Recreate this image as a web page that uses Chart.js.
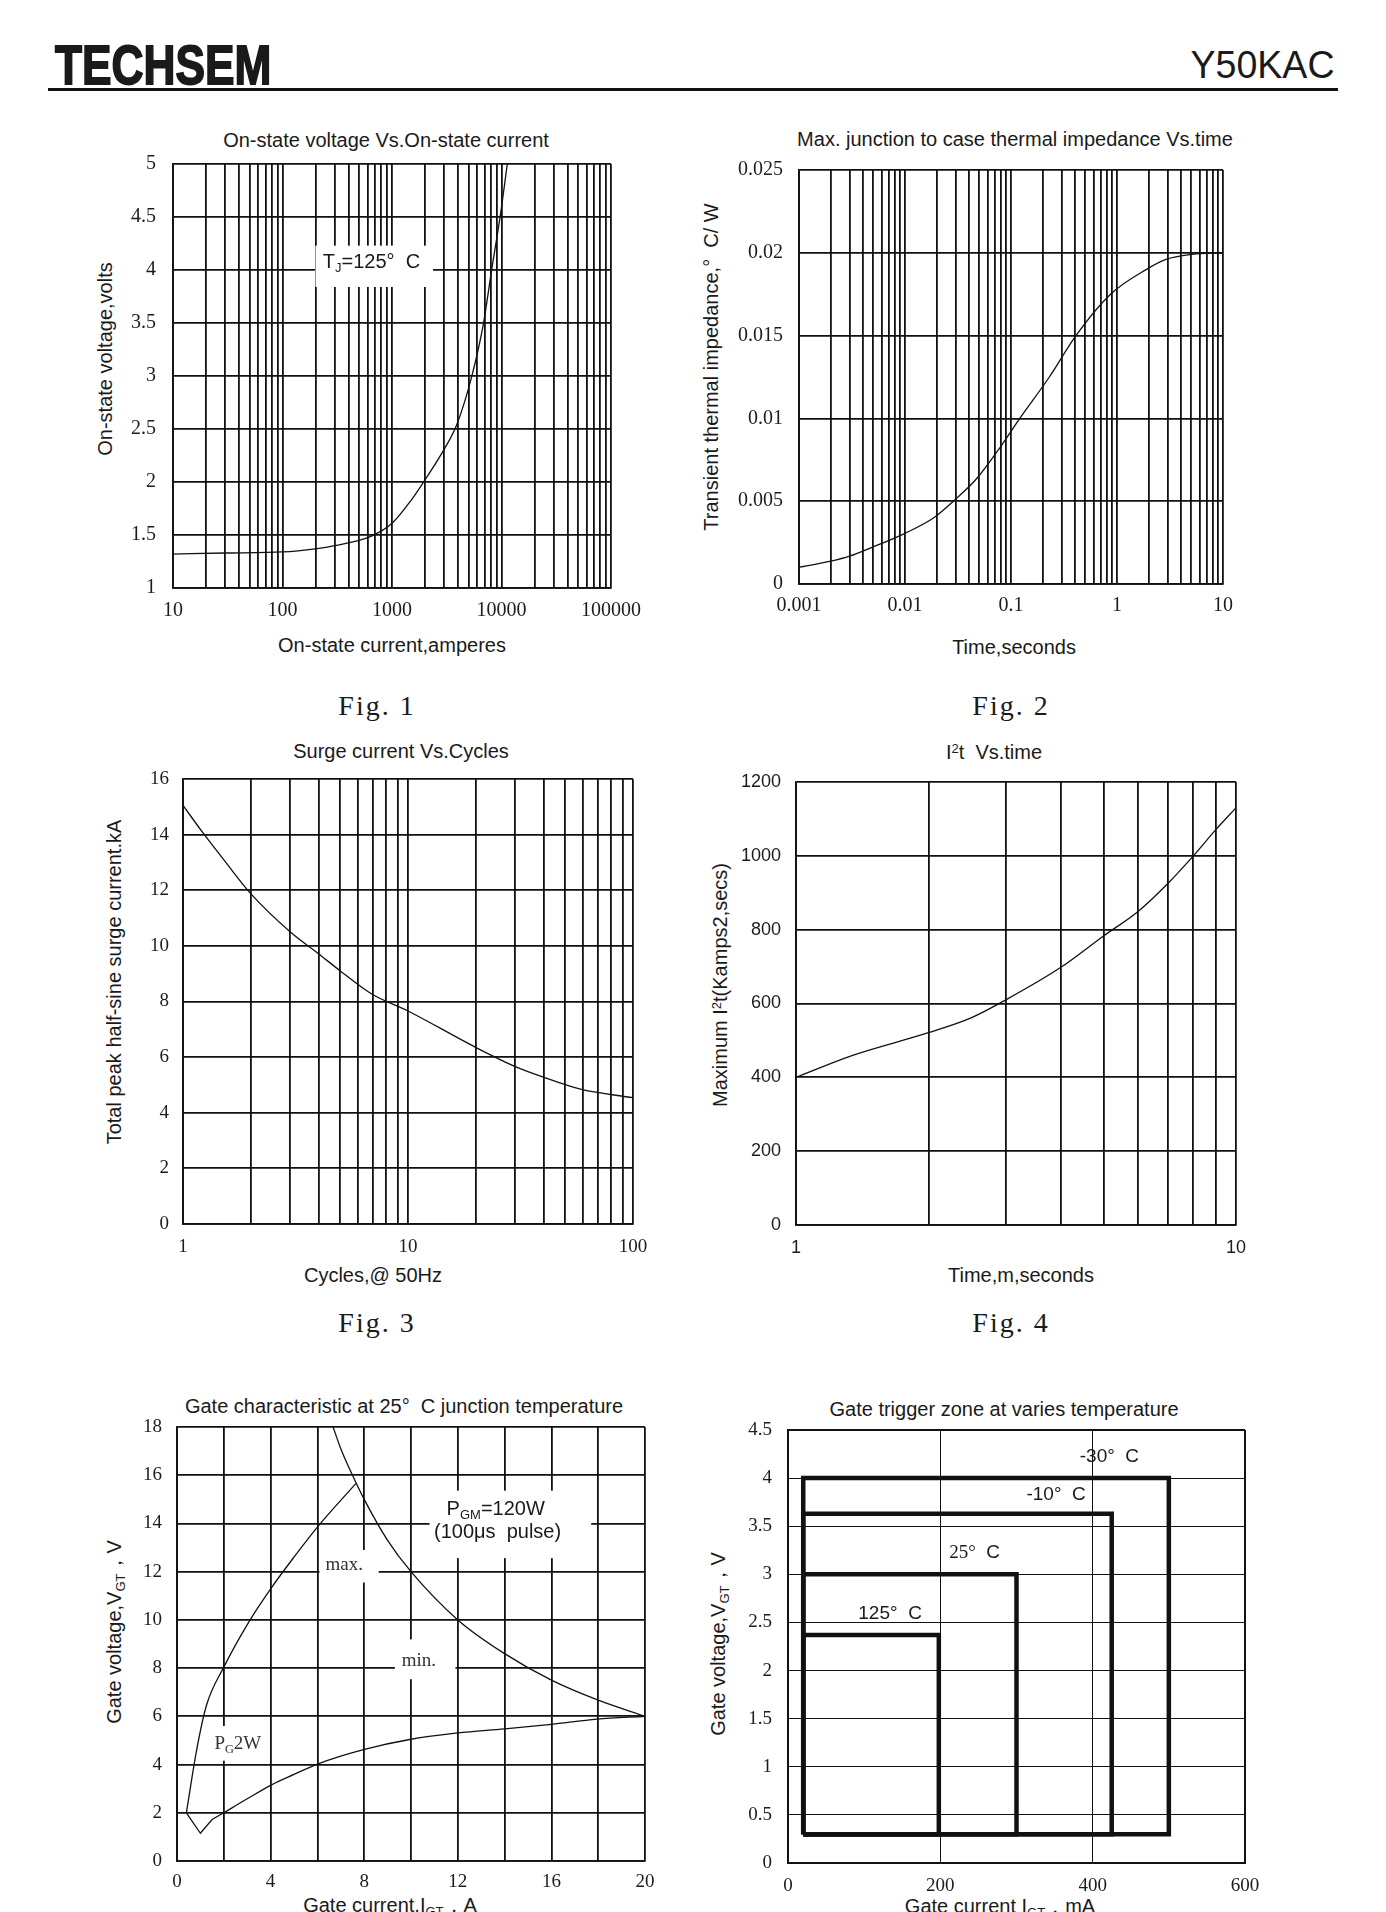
<!DOCTYPE html>
<html><head><meta charset="utf-8">
<script src="https://cdn.jsdelivr.net/npm/chart.js@4.4.1/dist/chart.umd.min.js"></script>
<style>
body{margin:0;background:#fff;width:1386px;height:1912px;position:relative;overflow:hidden;font-family:"Liberation Sans",Arial,sans-serif;color:#1a1a1a}
.t{position:absolute;white-space:pre;transform:translate(-50%,-50%);line-height:1;font-size:20px}
.yt{transform:translate(-50%,-50%) rotate(-90deg)}
.fig{font-family:"Liberation Serif",serif;font-size:28px;letter-spacing:2px}
sub{font-size:0.65em;vertical-align:-0.3em;line-height:0}
sup{font-size:0.65em;vertical-align:0.45em;line-height:0}
canvas{position:absolute}
</style></head>
<body>
<div style="position:absolute;left:55px;top:36.6px;font:900 56px 'Liberation Sans',Arial,sans-serif;line-height:1;transform:scaleX(0.79);transform-origin:0 0;-webkit-text-stroke:1.8px #1a1a1a;white-space:pre">TECHSEM</div>
<div style="position:absolute;right:51px;top:44.9px;font:400 39.5px 'Liberation Sans',Arial,sans-serif;line-height:1;transform:scaleX(0.95);transform-origin:100% 0;white-space:pre">Y50KAC</div>
<div style="position:absolute;left:48px;top:88px;width:1290px;height:2.5px;background:#111"></div>

<div class="t" style="left:386px;top:140px">On-state voltage Vs.On-state current</div>
<div class="t" style="left:392px;top:645px">On-state current,amperes</div>
<div class="t yt" style="left:105px;top:359px">On-state voltage,volts</div>
<div class="t fig" style="left:377px;top:706px">Fig. 1</div>

<div class="t" style="left:1015px;top:139px">Max. junction to case thermal impedance Vs.time</div>
<div class="t" style="left:1014px;top:647px">Time,seconds</div>
<div class="t yt" style="left:711px;top:367px">Transient thermal impedance,°  C/ W</div>
<div class="t fig" style="left:1011px;top:706px">Fig. 2</div>

<div class="t" style="left:401px;top:751px">Surge current Vs.Cycles</div>
<div class="t" style="left:373px;top:1275px">Cycles,@ 50Hz</div>
<div class="t yt" style="left:114px;top:982px">Total peak half-sine surge current.kA</div>
<div class="t fig" style="left:377px;top:1323px">Fig. 3</div>

<div class="t" style="left:994px;top:752px">I<sup>2</sup>t  Vs.time</div>
<div class="t" style="left:1021px;top:1275px">Time,m,seconds</div>
<div class="t yt" style="left:720px;top:985px">Maximum I<sup>2</sup>t(Kamps2,secs)</div>
<div class="t fig" style="left:1011px;top:1323px">Fig. 4</div>

<div class="t" style="left:404px;top:1406px">Gate characteristic at 25°  C junction temperature</div>
<div class="t" style="left:390px;top:1905px">Gate current,I<sub>GT</sub>，A</div>
<div class="t yt" style="left:114px;top:1632px">Gate voltage,V<sub>GT</sub>，V</div>

<div class="t" style="left:1004px;top:1409px">Gate trigger zone at varies temperature</div>
<div class="t" style="left:1000px;top:1906px">Gate current I<sub>GT</sub>，mA</div>
<div class="t yt" style="left:718px;top:1644px">Gate voltage,V<sub>GT</sub>，V</div>

<script>
// ---------------- DATA ----------------
// Fig.1 On-state voltage vs current (Tj=125 C)
const fig1Current = [10, 30, 100, 200, 300, 650, 1000, 1500, 2000, 3000, 3900, 5300, 6800, 8100, 9800, 11300];
const fig1Voltage = [1.32, 1.33, 1.34, 1.37, 1.40, 1.49, 1.61, 1.83, 2.02, 2.31, 2.54, 2.98, 3.48, 3.99, 4.53, 5.0];
const fig1XLabels = ['10', '100', '1000', '10000', '100000'];
const fig1YLabels = ['1', '1.5', '2', '2.5', '3', '3.5', '4', '4.5', '5'];

// Fig.2 Thermal impedance vs time
const fig2Time = [0.001, 0.002, 0.003, 0.005, 0.01, 0.019, 0.0286, 0.048, 0.08, 0.121, 0.23, 0.41, 0.87, 1.9, 2.9, 5.1, 10];
const fig2Zth = [0.00101, 0.00138, 0.00168, 0.00224, 0.00306, 0.00403, 0.005, 0.0064, 0.0083, 0.0100, 0.0125, 0.0150, 0.0175, 0.0190, 0.0196, 0.0199, 0.0200];
const fig2XLabels = ['0.001', '0.01', '0.1', '1', '10'];
const fig2YLabels = ['0', '0.005', '0.01', '0.015', '0.02', '0.025'];

// Fig.3 Surge current vs cycles
const fig3Cycles = [1, 1.23, 1.55, 2, 3, 4, 5, 6.9, 10, 20, 30, 40, 59, 100];
const fig3Surge = [15.05, 14.05, 13.0, 11.88, 10.5, 9.72, 9.1, 8.27, 7.66, 6.35, 5.66, 5.28, 4.84, 4.54];
const fig3XLabels = ['1', '10', '100'];
const fig3YLabels = ['0', '2', '4', '6', '8', '10', '12', '14', '16'];

// Fig.4 I2t vs time
const fig4Time = [1, 1.34, 2, 2.5, 3, 4, 5, 6, 7, 8, 9, 10];
const fig4I2t = [400, 459, 521, 561, 610, 698, 783, 850, 925, 1000, 1071, 1130];
const fig4XLabels = ['1', '10'];
const fig4YLabels = ['0', '200', '400', '600', '800', '1000', '1200'];

// Fig.5 Gate characteristic
const gateMaxI = [0.4, 0.85, 1.26, 2.0, 3.06, 4.04, 5.02, 6.0, 7.64];
const gateMaxV = [2.0, 4.66, 6.46, 8.04, 9.9, 11.34, 12.63, 13.85, 15.65];
const gateDipI = [0.4, 1.0, 1.5, 2.0];
const gateDipV = [2.0, 1.15, 1.72, 2.0];
const gateMinI = [2.0, 3.0, 4.04, 5.0, 6.0, 7.97, 10.0, 12, 14, 16, 17.95, 20];
const gateMinV = [2.0, 2.58, 3.16, 3.59, 4.02, 4.62, 5.05, 5.31, 5.48, 5.67, 5.88, 6.0];
const gatePowI = [6.67, 7.0, 7.5, 8.0, 9.0, 10, 12, 14, 16, 18, 20];
const gatePowV = [18.0, 17.1, 16.0, 15.0, 13.3, 12.0, 10.0, 8.6, 7.5, 6.67, 6.0];
const fig5XGrid = [0, 2, 4, 6, 8, 10, 12, 14, 16, 18, 20];
const fig5XLabels = ['0', '4', '8', '12', '16', '20'];
const fig5YLabels = ['0', '2', '4', '6', '8', '10', '12', '14', '16', '18'];

// Fig.6 Gate trigger zones
const zoneNames = ['125°  C', '25°  C', '-10°  C', '-30°  C'];
const zoneLeft = [20, 20, 20, 20];
const zoneBottom = [0.3, 0.3, 0.3, 0.3];
const zoneRight = [198, 300, 425, 500];
const zoneTop = [2.37, 3.0, 3.63, 4.0];
const fig6XLabels = ['0', '200', '400', '600'];
const fig6YLabels = ['0', '0.5', '1', '1.5', '2', '2.5', '3', '3.5', '4', '4.5'];

// ---------------- HELPERS ----------------
const SERIF = '"Liberation Serif", "Times New Roman", serif';
const SANS = '"Liberation Sans", Arial, sans-serif';
function logGrid(min, max) {
  const out = [];
  for (let d = min; d < max * 1.0001; d *= 10) {
    for (let k = 1; k < 10; k++) {
      const v = +(d * k).toPrecision(6);
      if (v <= max * 1.0001) out.push(v);
    }
  }
  return out;
}
function pts(xs, ys) { return xs.map((x, i) => ({x: x, y: ys[i]})); }
function curve(xs, ys, extra) {
  return Object.assign({data: pts(xs, ys), borderColor: '#111', borderWidth: 1.3, pointRadius: 0,
    fill: false, cubicInterpolationMode: 'monotone'}, extra || {});
}
function labeler(labels) {
  const vals = labels.map(Number);
  return v => {
    const i = vals.findIndex(x => Math.abs(x - v) <= 1e-9 * Math.max(1, Math.abs(x)));
    return i < 0 ? '' : labels[i];
  };
}
function drawRich(ctx, segs, cx, cy, fam, fs, color) {
  let w = 0;
  const f = s => ((s.sub ? fs * 0.65 : fs) + 'px ' + (s.fam || fam));
  segs.forEach(s => { ctx.font = f(s); w += ctx.measureText(s.t).width; });
  let x = cx - w / 2;
  ctx.textBaseline = 'middle'; ctx.textAlign = 'left'; ctx.fillStyle = color || '#1a1a1a';
  segs.forEach(s => {
    ctx.font = f(s);
    ctx.fillText(s.t, x, s.sub ? cy + fs * 0.3 : cy);
    x += ctx.measureText(s.t).width;
  });
}
function annPlugin(list) {
  return {
    id: 'ann',
    beforeDatasetsDraw(chart) {
      const ctx = chart.ctx, xs = chart.scales.x, ys = chart.scales.y;
      ctx.save();
      list.forEach(a => {
        if (a.box) {
          const x0 = xs.getPixelForValue(a.box[0]), x1 = xs.getPixelForValue(a.box[1]);
          const y0 = ys.getPixelForValue(a.box[2]), y1 = ys.getPixelForValue(a.box[3]);
          ctx.fillStyle = '#fff';
          ctx.fillRect(Math.min(x0, x1), Math.min(y0, y1), Math.abs(x1 - x0), Math.abs(y1 - y0));
        }
      });
      list.forEach(a => {
        if (a.text) drawRich(ctx, a.text, xs.getPixelForValue(a.x), ys.getPixelForValue(a.y), a.fam || SANS, a.size || 20, a.color);
      });
      ctx.restore();
    }
  };
}
function makeChart(o) {
  const padL = 72, padT = 40, padR = 60, padB = 44;
  const p = o.plot;
  const cv = document.createElement('canvas');
  const W = p.R - p.L + padL + padR, H = p.B - p.T + padT + padB;
  cv.width = W; cv.height = H; cv.style.width = W + 'px'; cv.style.height = H + 'px';
  cv.style.left = (p.L - padL) + 'px'; cv.style.top = (p.T - padT) + 'px';
  document.body.appendChild(cv);
  const gw = o.gridWidth || 1.8, fw = o.frameWidth || gw;
  const mkScale = axis => {
    const a = o[axis];
    return {
      type: a.log ? 'logarithmic' : 'linear', min: a.min, max: a.max,
      afterBuildTicks: s => { s.ticks = a.grid.map(v => ({value: v})); },
      afterFit: s => { if (axis === 'x') s.height = padB; else s.width = padL; },
      grid: {color: '#111', drawTicks: false,
        lineWidth: c => (c.tick && (Math.abs(c.tick.value - a.min) < 1e-12 || Math.abs(c.tick.value - a.max) < 1e-9 * a.max)) ? fw : gw},
      border: {color: '#111', width: fw},
      ticks: {autoSkip: false, maxRotation: 0, minRotation: 0, padding: a.pad, color: '#1c1c1c',
        font: {family: o.tickFont || SERIF, size: o.tickSize || 19}, callback: labeler(a.labels)}
    };
  };
  return new Chart(cv, {
    type: 'line',
    data: {datasets: o.datasets},
    options: {
      responsive: false, animation: false, devicePixelRatio: 1,
      layout: {padding: {top: padT, right: padR, left: 0, bottom: 0}},
      plugins: {legend: {display: false}, tooltip: {enabled: false}, title: {display: false}},
      scales: {x: mkScale('x'), y: mkScale('y')}
    },
    plugins: [annPlugin(o.ann || [])]
  });
}
const nums = l => l.map(Number);

// ---------------- CHARTS ----------------
makeChart({
  plot: {L: 173, T: 164, R: 611, B: 588},
  tickSize: 20,
  x: {log: true, min: 10, max: 100000, grid: logGrid(10, 100000), labels: fig1XLabels, pad: 11},
  y: {min: 1, max: 5, grid: nums(fig1YLabels), labels: fig1YLabels, pad: 17},
  datasets: [curve(fig1Current, fig1Voltage)],
  ann: [{box: [200, 2370, 3.84, 4.23]},
        {text: [{t: 'T'}, {t: 'J', sub: 1}, {t: '=125°  C'}], x: 650, y: 4.075, size: 20}]
});
makeChart({
  plot: {L: 799, T: 170, R: 1223, B: 584},
  tickSize: 20,
  x: {log: true, min: 0.001, max: 10, grid: logGrid(0.001, 10), labels: fig2XLabels, pad: 10},
  y: {min: 0, max: 0.025, grid: nums(fig2YLabels), labels: fig2YLabels, pad: 16},
  datasets: [curve(fig2Time, fig2Zth)]
});
makeChart({
  plot: {L: 183, T: 779, R: 633, B: 1224},
  x: {log: true, min: 1, max: 100, grid: logGrid(1, 100), labels: fig3XLabels, pad: 12},
  y: {min: 0, max: 16, grid: nums(fig3YLabels), labels: fig3YLabels, pad: 14},
  datasets: [curve(fig3Cycles, fig3Surge)]
});
makeChart({
  plot: {L: 796, T: 782, R: 1236, B: 1225},
  tickFont: SANS, tickSize: 18,
  x: {log: true, min: 1, max: 10, grid: logGrid(1, 10), labels: fig4XLabels, pad: 12},
  y: {min: 0, max: 1200, grid: nums(fig4YLabels), labels: fig4YLabels, pad: 15},
  datasets: [curve(fig4Time, fig4I2t)]
});
makeChart({
  plot: {L: 177, T: 1427, R: 645, B: 1861},
  x: {min: 0, max: 20, grid: fig5XGrid, labels: fig5XLabels, pad: 10},
  y: {min: 0, max: 18, grid: nums(fig5YLabels), labels: fig5YLabels, pad: 15},
  datasets: [
    curve(gateMaxI, gateMaxV),
    curve(gateDipI, gateDipV, {cubicInterpolationMode: 'default', tension: 0}),
    curve(gateMinI, gateMinV),
    curve(gatePowI, gatePowV)
  ],
  ann: [
    {box: [6.09, 8.62, 11.55, 12.9]},
    {box: [9.31, 11.9, 7.54, 9.19]},
    {box: [10.79, 17.7, 12.56, 15.36]},
    {box: [1.7, 3.5, 4.16, 5.6]},
    {text: [{t: 'max.'}], x: 7.15, y: 12.27, fam: SERIF, size: 19, color: '#333'},
    {text: [{t: 'min.'}], x: 10.34, y: 8.3, fam: SERIF, size: 19, color: '#333'},
    {text: [{t: 'P'}, {t: 'GM', sub: 1}, {t: '=120W'}], x: 13.62, y: 14.57, size: 20},
    {text: [{t: '(100μs  pulse)'}], x: 13.7, y: 13.64, size: 20},
    {text: [{t: 'P'}, {t: 'G', sub: 1}, {t: '2W'}], x: 2.6, y: 4.84, fam: SERIF, size: 19, color: '#333'}
  ]
});
makeChart({
  plot: {L: 788, T: 1430, R: 1245, B: 1863},
  gridWidth: 1, frameWidth: 2,
  x: {min: 0, max: 600, grid: nums(fig6XLabels), labels: fig6XLabels, pad: 12},
  y: {min: 0, max: 4.5, grid: nums(fig6YLabels), labels: fig6YLabels, pad: 16},
  datasets: zoneRight.map((r, i) => ({
    data: [{x: zoneLeft[i], y: zoneBottom[i]}, {x: zoneLeft[i], y: zoneTop[i]}, {x: r, y: zoneTop[i]},
           {x: r, y: zoneBottom[i]}, {x: zoneLeft[i], y: zoneBottom[i]}],
    borderColor: '#111', borderWidth: 4.5, pointRadius: 0, fill: false, tension: 0,
    borderJoinStyle: 'miter', borderDash: [2000, 0], label: zoneNames[i]
  })),
  ann: [
    {text: [{t: '-30°  C'}], x: 422, y: 4.22, size: 19},
    {text: [{t: '-10°  C'}], x: 352, y: 3.83, size: 19},
    {text: [{t: '25°', fam: SERIF}, {t: '  C'}], x: 245, y: 3.22, size: 19},
    {text: [{t: '125°  C'}], x: 134, y: 2.59, size: 19}
  ]
});
</script>
</body></html>
